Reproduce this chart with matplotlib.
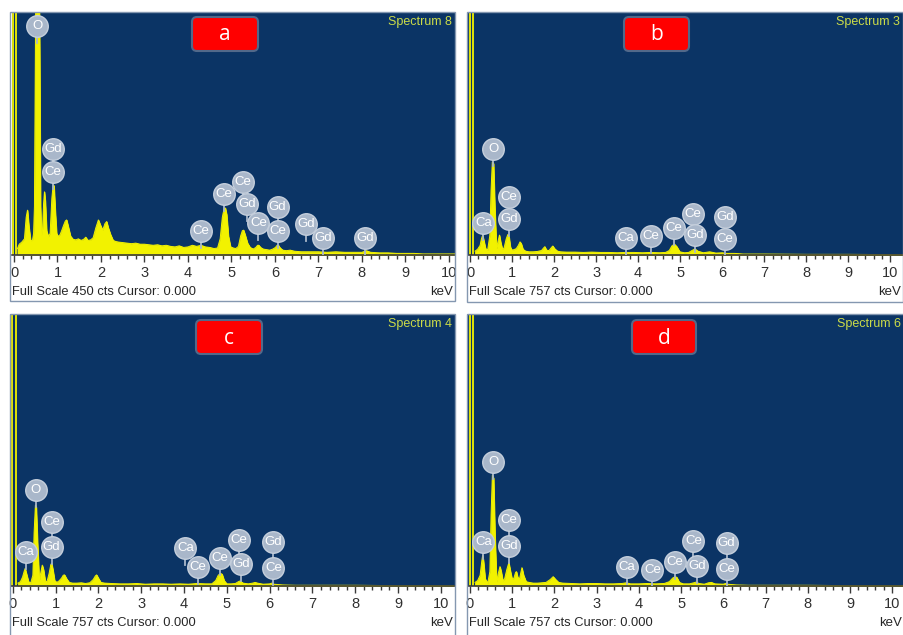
import matplotlib
matplotlib.use("Agg")
import matplotlib.pyplot as plt
from matplotlib import font_manager as fm
from matplotlib.patches import Rectangle, FancyBboxPatch

# ---- data (keV, counts) ----
a_spec = [(0.08, 12), (0.12, 20), (0.18, 24), (0.24, 30), (0.28, 70), (0.31, 83), (0.34, 55), (0.38, 28),
          (0.42, 25), (0.45, 40), (0.47, 90), (0.49, 380), (0.51, 600), (0.57, 600), (0.59, 380), (0.61, 90),
          (0.63, 38), (0.65, 36), (0.68, 95), (0.70, 117), (0.72, 100), (0.75, 45), (0.79, 34), (0.83, 40),
          (0.87, 105), (0.90, 130), (0.92, 128), (0.95, 80), (0.98, 40), (1.02, 34), (1.06, 38), (1.10, 46),
          (1.14, 55), (1.18, 63), (1.21, 65), (1.25, 52), (1.30, 35), (1.36, 29), (1.42, 28), (1.48, 30),
          (1.54, 27), (1.60, 29), (1.65, 33), (1.70, 27), (1.76, 28), (1.82, 32), (1.88, 50), (1.94, 65),
          (1.99, 55), (2.04, 46), (2.09, 58), (2.13, 62), (2.17, 50), (2.22, 38), (2.28, 27), (2.34, 25),
          (2.40, 24), (2.5, 23), (2.6, 22), (2.7, 21), (2.8, 22), (2.9, 20), (3.0, 20), (3.1, 19), (3.2, 18),
          (3.3, 19), (3.4, 17), (3.5, 18), (3.6, 16), (3.7, 15), (3.8, 17), (3.9, 14), (4.0, 15), (4.1, 18),
          (4.2, 16), (4.3, 18), (4.4, 15), (4.5, 14), (4.6, 12), (4.68, 13), (4.74, 30), (4.79, 70),
          (4.83, 86), (4.86, 87), (4.89, 75), (4.93, 35), (4.98, 15), (5.04, 13), (5.10, 12), (5.16, 16),
          (5.21, 35), (5.25, 45), (5.28, 46), (5.32, 36), (5.37, 22), (5.43, 14), (5.50, 11), (5.56, 14),
          (5.60, 18), (5.63, 18), (5.67, 14), (5.73, 11), (5.80, 10), (5.88, 9), (5.95, 11), (6.01, 14),
          (6.05, 18), (6.08, 18), (6.12, 13), (6.18, 9), (6.26, 8), (6.35, 9), (6.45, 7), (6.6, 6), (6.8, 6),
          (7.0, 6), (7.2, 5), (7.4, 6), (7.6, 5), (7.8, 5), (8.0, 5), (8.1, 8), (8.2, 5), (8.4, 4), (8.6, 4),
          (8.8, 3), (9.0, 3), (9.2, 3), (9.4, 2), (9.6, 2), (9.8, 2), (10.0, 2), (10.2, 2)]

b_spec = [(0.12, 12), (0.18, 18), (0.24, 30), (0.27, 50), (0.30, 62), (0.33, 45), (0.37, 20), (0.42, 16),
          (0.47, 60), (0.50, 200), (0.53, 290), (0.56, 285), (0.59, 150), (0.63, 20), (0.67, 45), (0.70, 62),
          (0.73, 40), (0.77, 18), (0.81, 22), (0.86, 50), (0.90, 64), (0.93, 55), (0.96, 25), (1.00, 15),
          (1.05, 17), (1.10, 20), (1.15, 30), (1.19, 41), (1.22, 35), (1.26, 18), (1.32, 12), (1.40, 10),
          (1.50, 10), (1.60, 11), (1.70, 14), (1.75, 22), (1.78, 26), (1.82, 15), (1.88, 14), (1.94, 24),
          (1.97, 28), (2.01, 20), (2.08, 12), (2.15, 10), (2.3, 9), (2.5, 9), (2.7, 8), (2.9, 9), (3.1, 8),
          (3.3, 8), (3.5, 7), (3.7, 8), (3.9, 8), (4.1, 7), (4.3, 8), (4.5, 7), (4.65, 8), (4.74, 14),
          (4.80, 28), (4.86, 34), (4.92, 26), (4.99, 10), (5.1, 7), (5.2, 8), (5.28, 14), (5.35, 19),
          (5.42, 12), (5.55, 7), (5.7, 10), (5.85, 6), (6.0, 7), (6.1, 5), (6.3, 5), (6.5, 3), (7.0, 3),
          (8.0, 2), (9.0, 2), (10.3, 1)]

c_spec = [(0.12, 8), (0.18, 12), (0.23, 25), (0.27, 42), (0.29, 49), (0.32, 35), (0.37, 12), (0.42, 8),
          (0.47, 30), (0.50, 150), (0.53, 225), (0.55, 220), (0.58, 120), (0.62, 14), (0.66, 40), (0.69, 58),
          (0.72, 45), (0.76, 14), (0.80, 12), (0.85, 35), (0.89, 60), (0.91, 63), (0.94, 45), (0.98, 15),
          (1.03, 10), (1.08, 14), (1.14, 22), (1.18, 30), (1.21, 31), (1.26, 20), (1.32, 10), (1.40, 8),
          (1.50, 8), (1.60, 9), (1.70, 7), (1.80, 9), (1.88, 18), (1.93, 28), (1.96, 31), (2.00, 22),
          (2.06, 10), (2.15, 8), (2.3, 7), (2.5, 6), (2.7, 6), (2.9, 7), (3.1, 5), (3.3, 6), (3.5, 6),
          (3.7, 5), (3.9, 6), (4.1, 5), (4.3, 7), (4.5, 6), (4.65, 6), (4.74, 15), (4.80, 30), (4.85, 35),
          (4.89, 33), (4.94, 15), (5.0, 6), (5.1, 6), (5.2, 7), (5.27, 12), (5.31, 14), (5.38, 8), (5.5, 6),
          (5.6, 8), (5.66, 10), (5.72, 8), (5.85, 5), (6.0, 6), (6.05, 8), (6.1, 5), (6.3, 3), (6.6, 2),
          (7.0, 2), (8.0, 2), (9.0, 1), (10.3, 1)]

d_spec = [(0.12, 10), (0.18, 15), (0.24, 30), (0.28, 70), (0.30, 86), (0.32, 70), (0.36, 20), (0.42, 8),
          (0.47, 40), (0.50, 200), (0.53, 309), (0.56, 300), (0.59, 150), (0.63, 12), (0.67, 35), (0.71, 54),
          (0.74, 40), (0.78, 14), (0.82, 20), (0.87, 45), (0.92, 65), (0.96, 40), (1.00, 18), (1.04, 22),
          (1.08, 38), (1.10, 40), (1.13, 25), (1.17, 18), (1.20, 35), (1.23, 51), (1.27, 30), (1.33, 12),
          (1.40, 10), (1.50, 8), (1.60, 8), (1.70, 9), (1.80, 10), (1.90, 18), (1.97, 26), (2.03, 18),
          (2.10, 10), (2.2, 8), (2.4, 7), (2.6, 6), (2.8, 7), (3.0, 7), (3.2, 6), (3.4, 6), (3.6, 7),
          (3.7, 9), (3.8, 6), (4.0, 6), (4.2, 7), (4.4, 6), (4.6, 7), (4.72, 12), (4.80, 22), (4.86, 26),
          (4.90, 24), (4.96, 10), (5.05, 6), (5.2, 6), (5.3, 9), (5.36, 11), (5.42, 7), (5.55, 5), (5.65, 9),
          (5.72, 10), (5.8, 6), (6.0, 5), (6.05, 7), (6.1, 5), (6.3, 3), (6.6, 2), (7.0, 2), (8.0, 2),
          (9.0, 1), (10.3, 1)]

# zero-energy noise peak (two thin off-scale lines)
a_noise = [-0.02, 0.05]
b_noise = [0.0, 0.08]
c_noise = [-0.01, 0.07]
d_noise = [0.0, 0.08]

# element markers: (label, keV, counts)
a_marks = [("O", 0.53, 424), ("Gd", 0.90, 196), ("Ce", 0.90, 153), ("Ce", 4.30, 45), ("Ce", 4.83, 113),
           ("Ce", 5.26, 136), ("Gd", 5.36, 94), ("Ce", 5.62, 60), ("Gd", 6.06, 88), ("Ce", 6.06, 45),
           ("Gd", 6.71, 57), ("Gd", 7.11, 31), ("Gd", 8.08, 31)]
b_marks = [("O", 0.55, 330), ("Ca", 0.32, 101), ("Ce", 0.92, 180), ("Gd", 0.92, 111), ("Ca", 3.71, 54),
           ("Ce", 4.30, 60), ("Ce", 4.85, 83), ("Ce", 5.30, 128), ("Gd", 5.36, 62), ("Gd", 6.07, 119),
           ("Ce", 6.07, 50)]
c_marks = [("O", 0.54, 267), ("Ca", 0.31, 95), ("Ce", 0.91, 179), ("Gd", 0.91, 109), ("Ca", 4.03, 107),
           ("Ce", 4.32, 54), ("Ce", 4.84, 79), ("Ce", 5.29, 128), ("Gd", 5.33, 60), ("Gd", 6.09, 122),
           ("Ce", 6.09, 49)]
d_marks = [("O", 0.55, 346), ("Ca", 0.32, 123), ("Ce", 0.92, 184), ("Gd", 0.92, 112), ("Ca", 3.71, 54),
           ("Ce", 4.32, 45), ("Ce", 4.86, 68), ("Ce", 5.29, 125), ("Gd", 5.37, 56), ("Gd", 6.08, 119),
           ("Ce", 6.08, 47)]

panel_tags = ["a", "b", "c", "d"]
spectrum_names = ["Spectrum 8", "Spectrum 3", "Spectrum 4", "Spectrum 6"]
full_scales = [450, 757, 757, 757]
tick_values = list(range(11))

# ---- fonts ----
avail = {f.name for f in fm.fontManager.ttflist}
narrow = "Liberation Sans Narrow" if "Liberation Sans Narrow" in avail else "Liberation Sans"
boxfont = "Open Sans" if "Open Sans" in avail else "DejaVu Sans"

W, H = 904, 635
BG = "#0b3465"
YEL = "#f2f200"
BADGE = "#a9b7ca"

fig = plt.figure(figsize=(W / 100, H / 100), dpi=100)
fig.patch.set_facecolor("white")

# pixel layout: plot box (left, right, top, bottom), frame (left, right, top, bottom), xlim, red box (x0, x1, y0, y1)
layout = [
    dict(plot=(12, 455, 12, 255), frame=(10, 455, 12, 301), xlim=(-0.046, 10.14), tag=(192, 258, 17, 51)),
    dict(plot=(468, 903, 12, 255), frame=(467, 903, 12, 302), xlim=(-0.048, 10.30), tag=(624, 689, 17, 51)),
    dict(plot=(11, 455, 314, 586), frame=(10, 455, 314, 645), xlim=(-0.04, 10.33), tag=(196, 262, 320, 354)),
    dict(plot=(468, 904, 314, 586), frame=(467, 905, 314, 645), xlim=(-0.047, 10.28), tag=(632, 696, 320, 354)),
]

specs = [a_spec, b_spec, c_spec, d_spec]
noises = [a_noise, b_noise, c_noise, d_noise]
marks = [a_marks, b_marks, c_marks, d_marks]

# overlay in pixel coordinates for frames, tags and captions
over = fig.add_axes([0, 0, 1, 1], zorder=5)
over.set_xlim(0, W)
over.set_ylim(H, 0)
over.axis("off")
over.patch.set_alpha(0)

for i, lay in enumerate(layout):
    l, r, t, b = lay["plot"]
    ax = fig.add_axes([l / W, 1 - b / H, (r - l) / W, (b - t) / H])
    ax.set_facecolor(BG)
    ymax = full_scales[i]
    ax.set_xlim(*lay["xlim"])
    ax.set_ylim(0, ymax)

    kev = [p[0] for p in specs[i]]
    cts = [p[1] for p in specs[i]]
    ax.fill_between(kev, 0, cts, color=YEL, lw=0.6, zorder=2)
    ax.plot(kev, cts, color=YEL, lw=0.7, zorder=2)
    ax.vlines(noises[i], 0, ymax * 1.05, color=YEL, lw=1.3, zorder=2)

    # element badges
    px = ymax / (b - t)
    for lab, e, y in marks[i]:
        ax.plot([e, e], [y - 17 * px, y], color=BADGE, lw=1.3, zorder=3)
        ax.plot(e, y, "o", ms=15.5, mfc=BADGE, mec="#c5cfdc", mew=1.0, zorder=4)
        ax.text(e, y, lab, color="white", ha="center", va="center", fontsize=9.5,
                family=[narrow, "DejaVu Sans"], zorder=5)

    for s in ["top", "left", "right"]:
        ax.spines[s].set_visible(False)
    ax.spines["bottom"].set_color("#3a3a3a")
    ax.spines["bottom"].set_linewidth(1.2)
    ax.set_yticks([])
    ax.set_xticks(tick_values)
    ax.set_xticks([v / 5 for v in range(51)], minor=True)
    ax.tick_params(axis="x", which="major", length=5, width=1, color="#3a3a3a", pad=3,
                   labelsize=10.5, labelcolor="#303030")
    ax.tick_params(axis="x", which="minor", length=3, width=1, color="#3a3a3a")
    for tl in ax.get_xticklabels():
        tl.set_family([narrow, "DejaVu Sans"])

    # frame around the whole panel
    fl, fr, ft, fb = lay["frame"]
    over.add_patch(Rectangle((fl, ft), fr - fl, fb - ft, fill=False, ec="#8497b0", lw=1.0))

    # captions
    over.text(fl + 2, b + 37, "Full Scale %d cts Cursor: 0.000" % full_scales[i], fontsize=9.3,
              color="#262626", ha="left", va="center", family=[narrow, "DejaVu Sans"])
    over.text(r - 2, b + 37, "keV", fontsize=9.5, color="#262626", ha="right", va="center",
              family=[narrow, "DejaVu Sans"])
    over.text(r - 3, t + 10, spectrum_names[i], fontsize=9, color="#cbdb48", ha="right", va="center",
              family=[narrow, "DejaVu Sans"])

    # red tag box
    x0, x1, y0, y1 = lay["tag"]
    over.add_patch(FancyBboxPatch((x0, y0), x1 - x0, y1 - y0, boxstyle="round,pad=0,rounding_size=5",
                                  fc="#ff0000", ec="#52698a", lw=1.5))
    over.text((x0 + x1) / 2, (y0 + y1) / 2 + 1, panel_tags[i], color="white", fontsize=15,
              ha="center", va="center", family=[boxfont, "DejaVu Sans"])

fig.savefig("out.png", dpi=100)
